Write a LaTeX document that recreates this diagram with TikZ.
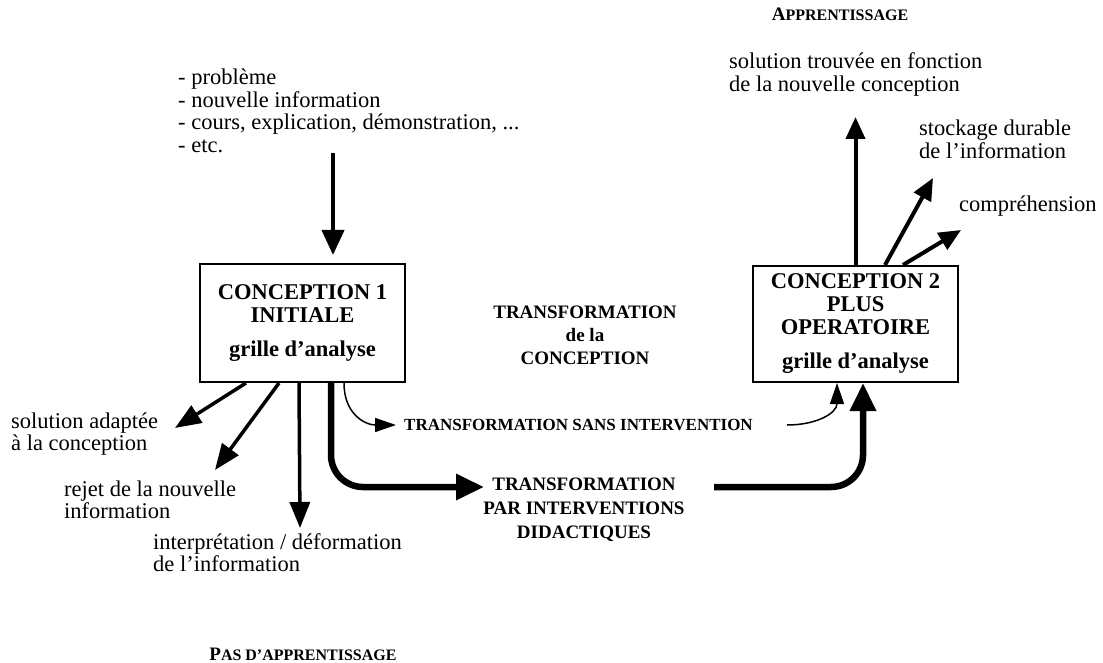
\documentclass[tikz,border=0pt]{standalone}
\usepackage{fontspec}
\setmainfont{Liberation Serif}
\usetikzlibrary{arrows.meta}
\usetikzlibrary{calc}

\newcommand\bigsc{\fontsize{19}{19}\selectfont}
\newcommand\smsc{\fontsize{16}{16}\selectfont}

\tikzset{
  txt/.style={font=\fontsize{22.5}{22.5}\selectfont, align=left, inner sep=0pt, anchor=base west},
  btxt/.style={font=\bfseries\fontsize{19}{23}\selectfont, align=center, inner sep=0pt, anchor=base},
  concbox/.style={draw, line width=2pt, minimum width=205pt, inner sep=0pt, align=center, font=\bfseries\fontsize{22.5}{23}\selectfont},
  bigarr/.style={line width=4pt, -{Triangle[width=22pt,length=25pt]}},
  outarr/.style={line width=3.5pt, -{Triangle[width=20pt,length=26pt]}},
  uparr/.style={line width=4pt, -{Triangle[width=19pt,length=22pt]}},
  thkarr/.style={line width=6.5pt, -{Triangle[width=25pt,length=28pt]}},
  thnarr/.style={line width=1.5pt, -{Triangle[width=14pt,length=21pt]}}
}

\begin{document}
\begin{tikzpicture}[x=1pt,y=1pt,yscale=-1,xscale=1]
\useasboundingbox (0,0) rectangle (1103,663);

%Shape: Rectangle [conception 1]
\node (cone1) at (302.5,323) [concbox, minimum height=118pt] {CONCEPTION 1\\INITIALE\\[11pt]grille d’analyse};
%Shape: Rectangle [conception 2]
\node (cone2) at (855.5,324) [concbox, minimum height=116pt] {CONCEPTION 2\\PLUS\\OPERATOIRE\\[11pt]grille d’analyse};

% Text Node (base = last line)
\draw (178,152.5) node [txt] (pbl) {- problème\\- nouvelle information\\- cours, explication, démonstration, ...\\- etc.};
% Text Node
\draw (11,450.5) node [txt] (sola) {solution adaptée\\à la conception};
% Text Node
\draw (64,518.5) node [txt] (rej) {rejet de la nouvelle\\information};
% Text Node
\draw (153,571.5) node [txt] (itp) {interprétation / déformation\\de l’information};
% Text Node
\draw (729,91.5) node [txt] (solt) {solution trouvée en fonction\\de la nouvelle conception};
% Text Node
\draw (919,158.5) node [txt] (sto) {stockage durable\\de l’information};
% Text Node
\draw (959,212) node [txt] (cmp) {compréhension};
% Text Node
\draw (585,364) node [btxt] (trf) {TRANSFORMATION\\de la\\CONCEPTION};
% Text Node
\draw (584,538) node [btxt, font=\bfseries\fontsize{19}{24}\selectfont] (did) {TRANSFORMATION\\PAR INTERVENTIONS\\DIDACTIQUES};
% Text Node
\draw (404,430.5) node [anchor=base west, inner sep=0pt, font=\bfseries\fontsize{17}{17}\selectfont] (sans) {TRANSFORMATION SANS INTERVENTION};
% Text Node
\draw (840,21) node [anchor=base, inner sep=0pt, font=\bfseries] (app) {\bigsc A\smsc PPRENTISSAGE};
% Text Node
\draw (303,660) node [anchor=base, inner sep=0pt, font=\bfseries] (papp) {\bigsc P\smsc AS D’APPRENTISSAGE};

%free ends
\coordinate (inTop) at (333,153);
\coordinate (solA) at (175,428);
\coordinate (rejA) at (215,470);
\coordinate (intA) at (300,528);
\coordinate (didA) at (484,487);
\coordinate (didB) at (714,487);
\coordinate (solT) at (855.5,117);
\coordinate (stoT) at (933,178);
\coordinate (comT) at (961,230);

%Straight Lines
\draw [bigarr, shorten >=8pt] (inTop) -- (inTop |- cone1.north);
%Straight Lines
\draw [outarr] ($(cone1.south west)+(47,0)$) -- (solA);
\draw [outarr] ($(cone1.south west)+(80,0)$) -- (rejA);
\draw [outarr] ($(cone1.south west)+(100,0)$) -- (intA);
%Straight Lines
\draw [uparr] (cone2.north) -- (solT);
\draw [uparr] ($(cone2.north)+(29.5,0)$) -- (stoT);
\draw [uparr] ($(cone2.north)+(47.5,0)$) -- (comT);
%Curve Lines
\draw [thnarr] ($(cone1.south west)+(145,0)$) .. controls +(0,32) and +(-30,0) .. ($(sans.west)+(-8,0)$);
\draw [thnarr] ($(sans.east)+(34,0)$) .. controls +(30,0) and +(0,30) .. ($(cone2.south)+(-18.5,0)$);
%Thick Lines
\draw [thkarr, rounded corners=32pt] ($(cone1.south west)+(132,0)$) |- (didA);
\draw [thkarr, rounded corners=32pt] (didB) -| ($(cone2.south)+(7.5,0)$);

\end{tikzpicture}
\end{document}
